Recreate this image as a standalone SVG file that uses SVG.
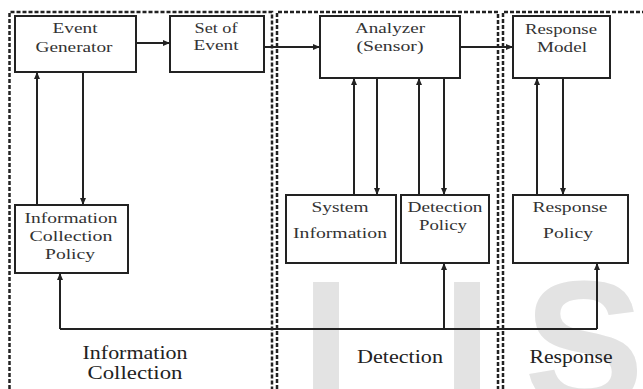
<svg xmlns="http://www.w3.org/2000/svg" width="643" height="389" viewBox="0 0 643 389">
<style>
.box{fill:#fff;stroke:#222;stroke-width:2}
.lbl{font-family:"Liberation Serif","DejaVu Serif","Times New Roman",Times,serif;font-size:15px;fill:#333;text-anchor:middle}
.big{font-family:"Liberation Serif","DejaVu Serif","Times New Roman",Times,serif;font-size:18px;fill:#222;text-anchor:middle}
.panel{fill:none;stroke:#222;stroke-width:2.5;stroke-dasharray:4 2}
.con{fill:none;stroke:#222;stroke-width:2}
.wm{font-family:"Liberation Sans",Arial,sans-serif;font-weight:bold;font-size:180px;fill:#e3e3e3}
</style>
<defs>
<marker id="ah" markerUnits="userSpaceOnUse" markerWidth="8" markerHeight="8" viewBox="0 0 8 8" refX="7" refY="4" orient="auto">
<path d="M0,1 L7,4 L0,7 Z" fill="#222"/>
</marker>
</defs>
<rect width="643" height="389" fill="#fff"/>
<g id="watermark">
<text class="wm" x="301" y="406">I</text>
<text class="wm" x="442" y="406">I</text>
<text class="wm" x="524" y="406">S</text>
</g>
<g id="panels">
<path class="panel" d="M9.5,389 V12 H272 V389"/>
<path class="panel" d="M277,389 V12 H498 V389"/>
<path class="panel" d="M503,389 V12 H643"/>
</g>
<g id="connectors">
<path class="con" d="M136,43 H170" marker-end="url(#ah)"/>
<path class="con" d="M264,47 H320" marker-end="url(#ah)"/>
<path class="con" d="M460,47 H513" marker-end="url(#ah)"/>
<path class="con" d="M37,205 V72" marker-end="url(#ah)"/>
<path class="con" d="M83,72 V205" marker-end="url(#ah)"/>
<path class="con" d="M354,195 V78" marker-end="url(#ah)"/>
<path class="con" d="M377,78 V195" marker-end="url(#ah)"/>
<path class="con" d="M419,195 V78" marker-end="url(#ah)"/>
<path class="con" d="M444,78 V195" marker-end="url(#ah)"/>
<path class="con" d="M537,195 V78" marker-end="url(#ah)"/>
<path class="con" d="M563,78 V195" marker-end="url(#ah)"/>
<path class="con" d="M60,329 H597"/>
<path class="con" d="M60,329 V273" marker-end="url(#ah)"/>
<path class="con" d="M444,329 V263" marker-end="url(#ah)"/>
<path class="con" d="M597,329 V263" marker-end="url(#ah)"/>
</g>
<g id="event-generator">
<rect class="box" x="15" y="16" width="121" height="56"/>
<text class="lbl" x="75" y="33" textLength="45" lengthAdjust="spacingAndGlyphs">Event</text>
<text class="lbl" x="74" y="52" textLength="77" lengthAdjust="spacingAndGlyphs">Generator</text>
</g>
<g id="set-of-event">
<rect class="box" x="170" y="16" width="94" height="56"/>
<text class="lbl" x="216" y="33" textLength="43" lengthAdjust="spacingAndGlyphs">Set of</text>
<text class="lbl" x="216" y="50" textLength="45" lengthAdjust="spacingAndGlyphs">Event</text>
</g>
<g id="analyzer">
<rect class="box" x="320" y="16" width="140" height="62"/>
<text class="lbl" x="390" y="33" textLength="70" lengthAdjust="spacingAndGlyphs">Analyzer</text>
<text class="lbl" x="390" y="51" textLength="67" lengthAdjust="spacingAndGlyphs">(Sensor)</text>
</g>
<g id="response-model">
<rect class="box" x="513" y="16" width="97" height="62"/>
<text class="lbl" x="561" y="34" textLength="72" lengthAdjust="spacingAndGlyphs">Response</text>
<text class="lbl" x="562" y="52" textLength="50" lengthAdjust="spacingAndGlyphs">Model</text>
</g>
<g id="info-collection-policy">
<rect class="box" x="15" y="205" width="113" height="68"/>
<text class="lbl" x="71" y="223" textLength="93" lengthAdjust="spacingAndGlyphs">Information</text>
<text class="lbl" x="71" y="241" textLength="83" lengthAdjust="spacingAndGlyphs">Collection</text>
<text class="lbl" x="70" y="259" textLength="50" lengthAdjust="spacingAndGlyphs">Policy</text>
</g>
<g id="system-information">
<rect class="box" x="286" y="195" width="110" height="68"/>
<text class="lbl" x="340" y="212" textLength="57" lengthAdjust="spacingAndGlyphs">System</text>
<text class="lbl" x="340" y="238" textLength="94" lengthAdjust="spacingAndGlyphs">Information</text>
</g>
<g id="detection-policy">
<rect class="box" x="401" y="195" width="88" height="68"/>
<text class="lbl" x="445" y="212" textLength="75" lengthAdjust="spacingAndGlyphs">Detection</text>
<text class="lbl" x="443" y="230" textLength="48" lengthAdjust="spacingAndGlyphs">Policy</text>
</g>
<g id="response-policy">
<rect class="box" x="513" y="195" width="115" height="68"/>
<text class="lbl" x="570" y="212" textLength="75" lengthAdjust="spacingAndGlyphs">Response</text>
<text class="lbl" x="568" y="238" textLength="50" lengthAdjust="spacingAndGlyphs">Policy</text>
</g>
<g id="labels">
<text class="big" x="135" y="359" textLength="105" lengthAdjust="spacingAndGlyphs">Information</text>
<text class="big" x="135" y="379" textLength="95" lengthAdjust="spacingAndGlyphs">Collection</text>
<text class="big" x="400" y="363" textLength="86" lengthAdjust="spacingAndGlyphs">Detection</text>
<text class="big" x="571" y="363" textLength="83" lengthAdjust="spacingAndGlyphs">Response</text>
</g>
</svg>
